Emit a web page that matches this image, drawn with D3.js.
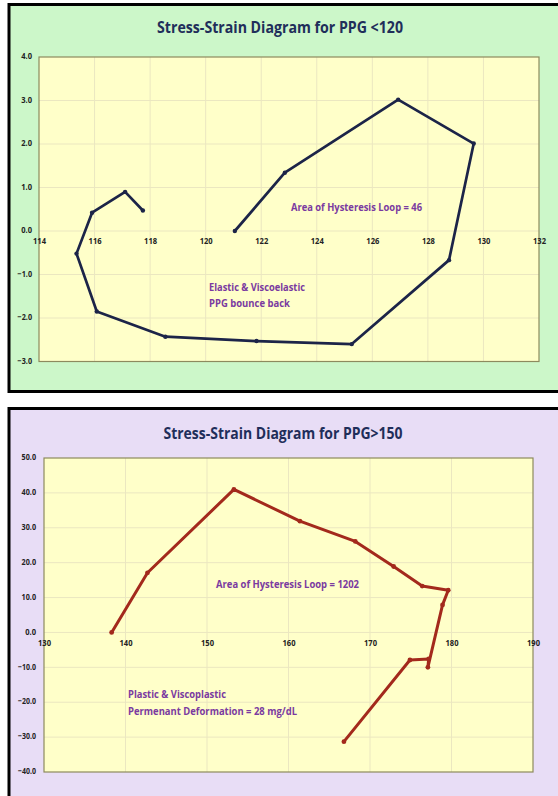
<!DOCTYPE html>
<html><head><meta charset="utf-8">
<script src="https://cdn.jsdelivr.net/npm/d3@7"></script>
<style>body{margin:0;background:#fff;}svg{display:block;}</style>
</head><body>
<svg id="c" width="558" height="796"></svg>
<script>
// ---- Data: chart 1 (PPG <120)
const title1 = "Stress-Strain Diagram for PPG <120";
const x1Ticks = [114,116,118,120,122,124,126,128,130,132];
const y1Ticks = [4,3,2,1,0,-1,-2,-3];
const strain1 = [121.05,122.85,126.93,129.65,128.76,125.26,121.83,118.55,116.08,115.35,115.91,117.1,117.74];
const stress1 = [0.0,1.34,3.02,2.01,-0.67,-2.6,-2.53,-2.43,-1.85,-0.52,0.42,0.9,0.47];
const notes1 = ["Area of Hysteresis Loop = 46","Elastic & Viscoelastic","PPG bounce back"];

// ---- Data: chart 2 (PPG >150)
const title2 = "Stress-Strain Diagram for PPG>150";
const x2Ticks = [130,140,150,160,170,180,190];
const y2Ticks = [50,40,30,20,10,0,-10,-20,-30,-40];
const strain2 = [138.3,142.7,153.3,161.4,168.2,172.9,176.4,179.6,178.9,177.1,177.2,174.9,166.8];
const stress2 = [0.0,17.1,41.0,31.9,26.1,18.9,13.3,12.1,7.9,-10.0,-7.6,-7.9,-31.3];
const notes2 = ["Area of Hysteresis Loop = 1202","Plastic & Viscoplastic","Permenant Deformation = 28 mg/dL"];

const svg = d3.select("#c");
const FONT = "'Open Sans', Lato, sans-serif";

// panel backgrounds
svg.append("rect").attr("x",0).attr("y",0).attr("width",558).attr("height",796).attr("fill","#ffffff");
svg.append("rect").attr("x",9).attr("y",5).attr("width",549).attr("height",386).attr("fill","#ccf7c9");
svg.append("rect").attr("x",9).attr("y",409).attr("width",549).attr("height",387).attr("fill","#e8ddf6");
// black frames
const frame = svg.append("g").attr("stroke","#000").attr("fill","none");
frame.append("path").attr("d","M558,4.5 H9 V391.5 H558").attr("stroke-width",3);
frame.append("path").attr("d","M558,408.5 H9 V796").attr("stroke-width",3);

function drawChart(cfg){
  const g = svg.append("g");
  const x = d3.scaleLinear().domain(cfg.xDomain).range([cfg.left,cfg.right]);
  const y = d3.scaleLinear().domain(cfg.yDomain).range([cfg.bottom,cfg.top]);
  // plot area
  g.append("rect").attr("x",cfg.left).attr("y",cfg.top)
    .attr("width",cfg.right-cfg.left).attr("height",cfg.bottom-cfg.top)
    .attr("fill","#ffffc9");
  // gridlines
  g.append("g").selectAll("line").data(cfg.xTicks.slice(1,-1)).join("line")
    .attr("x1",d=>x(d)).attr("x2",d=>x(d)).attr("y1",cfg.top).attr("y2",cfg.bottom)
    .attr("stroke","#ebe7c0").attr("stroke-width",1);
  g.append("g").selectAll("line").data(cfg.yTicks.slice(1,-1)).join("line")
    .attr("x1",cfg.left).attr("x2",cfg.right).attr("y1",d=>y(d)).attr("y2",d=>y(d))
    .attr("stroke","#ebe7c0").attr("stroke-width",1);
  // border
  g.append("rect").attr("x",cfg.left).attr("y",cfg.top)
    .attr("width",cfg.right-cfg.left).attr("height",cfg.bottom-cfg.top)
    .attr("fill","none").attr("stroke","#8d8a5e").attr("stroke-width",1.2);
  // x axis at y=0 (labels only)
  const xAxis = d3.axisBottom(x).tickValues(cfg.xTicks).tickSize(0).tickPadding(cfg.xPad).tickFormat(d3.format("d"));
  const xa = g.append("g").attr("transform",`translate(0,${y(0)})`).call(xAxis);
  xa.select(".domain").remove();
  xa.selectAll("text").attr("font-family",FONT).attr("font-weight","bold").attr("font-size",cfg.tickFs).attr("fill","#222")
    .attr("textLength",13).attr("lengthAdjust","spacingAndGlyphs");
  // y axis labels
  const yAxis = d3.axisLeft(y).tickValues(cfg.yTicks).tickSize(0).tickPadding(0).tickFormat(d3.format(".1f"));
  const ya = g.append("g").attr("transform",`translate(${cfg.yLabelRight},0)`).call(yAxis);
  ya.select(".domain").remove();
  ya.selectAll("text").attr("font-family",FONT).attr("font-weight","bold").attr("font-size",cfg.tickFs).attr("fill","#222").attr("dy","0.2em")
    .each(function(){ const s=this.textContent; d3.select(this).attr("textLength", s.length*3.6).attr("lengthAdjust","spacingAndGlyphs"); });
  // title
  g.append("text").attr("x",cfg.titleX).attr("y",cfg.titleY).attr("text-anchor","middle")
    .attr("font-family",FONT).attr("font-weight","bold").attr("font-size",16).attr("fill","#1f2e5a")
    .attr("textLength",cfg.titleW).attr("lengthAdjust","spacingAndGlyphs").text(cfg.title);
  // series
  const pts = cfg.xs.map((v,i)=>[v,cfg.ys[i]]);
  g.append("path").datum(pts).attr("fill","none").attr("stroke",cfg.color)
    .attr("stroke-width",cfg.lw).attr("stroke-linejoin","round")
    .attr("d",d3.line().x(d=>x(d[0])).y(d=>y(d[1])));
  g.append("g").selectAll("circle").data(pts).join("circle")
    .attr("cx",d=>x(d[0])).attr("cy",d=>y(d[1])).attr("r",cfg.r).attr("fill",cfg.color);
  // notes
  cfg.notes.forEach((t,i)=>{
    const n = cfg.notePos[i];
    g.append("text").attr("x",n[0]).attr("y",n[1]).attr("font-family",FONT).attr("font-weight","bold")
      .attr("font-size",10.5).attr("fill","#7a3aa0").attr("textLength",n[2]).attr("lengthAdjust","spacingAndGlyphs").text(t);
  });
}

drawChart({
  title:title1, titleX:280, titleY:33, titleW:246,
  xDomain:[114,132], yDomain:[-3,4], left:39, right:539, top:57, bottom:361.5,
  xTicks:x1Ticks, yTicks:y1Ticks, xs:strain1, ys:stress1,
  color:"#1c2448", lw:2.7, r:2.2, tickFs:8.5, xPad:7, yLabelRight:32,
  notes:notes1, notePos:[[291,211,131],[209,291,96],[209,307,81]]
});
drawChart({
  title:title2, titleX:283, titleY:439, titleW:239,
  xDomain:[130,190], yDomain:[-40,50], left:44, right:533, top:458, bottom:772,
  xTicks:x2Ticks, yTicks:y2Ticks, xs:strain2, ys:stress2,
  color:"#a3291c", lw:3, r:2.4, tickFs:8.5, xPad:8, yLabelRight:36,
  notes:notes2, notePos:[[216,588,143],[128,698,98],[128,715,169]]
});
</script>
</body></html>
